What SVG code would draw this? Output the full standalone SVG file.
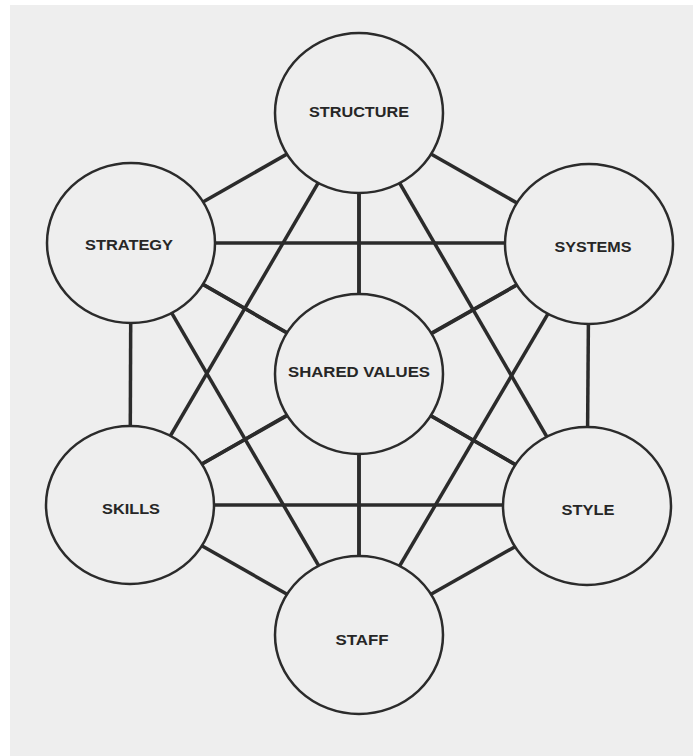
<svg xmlns="http://www.w3.org/2000/svg" width="693" height="756" viewBox="0 0 693 756">
<style>
.bg{fill:#ffffff}
.page{fill:#eeeeee}
.edge{stroke:#2b2b2b;stroke-width:3.5;stroke-linecap:butt}
.node ellipse{fill:#eeeeee;stroke:#2b2b2b;stroke-width:2.5}
.node text{font-family:"Liberation Sans",Arial,sans-serif;font-weight:bold;font-size:15px;fill:#262626;text-anchor:middle}
</style>
<rect class="bg" x="0" y="0" width="693" height="756"/>
<rect class="page" x="10" y="5" width="683" height="751"/>
<g id="connectors">
<line class="edge" x1="359" y1="113" x2="131" y2="243"/>
<line class="edge" x1="359" y1="113" x2="589" y2="244"/>
<line class="edge" x1="359" y1="113" x2="359" y2="374"/>
<line class="edge" x1="359" y1="113" x2="130" y2="505"/>
<line class="edge" x1="359" y1="113" x2="587" y2="506"/>
<line class="edge" x1="359" y1="113" x2="359" y2="635"/>
<line class="edge" x1="131" y1="243" x2="589" y2="243"/>
<line class="edge" x1="131" y1="243" x2="359" y2="374"/>
<line class="edge" x1="131" y1="243" x2="130" y2="505"/>
<line class="edge" x1="131" y1="243" x2="587" y2="506"/>
<line class="edge" x1="131" y1="243" x2="359" y2="635"/>
<line class="edge" x1="589" y1="244" x2="359" y2="374"/>
<line class="edge" x1="589" y1="244" x2="130" y2="505"/>
<line class="edge" x1="589" y1="244" x2="587" y2="506"/>
<line class="edge" x1="589" y1="244" x2="359" y2="635"/>
<line class="edge" x1="359" y1="374" x2="130" y2="505"/>
<line class="edge" x1="359" y1="374" x2="587" y2="506"/>
<line class="edge" x1="359" y1="374" x2="359" y2="635"/>
<line class="edge" x1="130" y1="505" x2="587" y2="505"/>
<line class="edge" x1="130" y1="505" x2="359" y2="635"/>
<line class="edge" x1="587" y1="506" x2="359" y2="635"/>
</g>
<g id="structure" class="node"><ellipse cx="359" cy="113" rx="84" ry="80"/><text x="359" y="117" textLength="100" lengthAdjust="spacingAndGlyphs">STRUCTURE</text></g>
<g id="strategy" class="node"><ellipse cx="131" cy="243" rx="84" ry="80"/><text x="129" y="250" textLength="88" lengthAdjust="spacingAndGlyphs">STRATEGY</text></g>
<g id="systems" class="node"><ellipse cx="589" cy="244" rx="84" ry="80"/><text x="593" y="252" textLength="77" lengthAdjust="spacingAndGlyphs">SYSTEMS</text></g>
<g id="shared-values" class="node"><ellipse cx="359" cy="374" rx="84" ry="80"/><text x="359" y="377" textLength="142" lengthAdjust="spacingAndGlyphs">SHARED VALUES</text></g>
<g id="skills" class="node"><ellipse cx="130" cy="505" rx="84" ry="79"/><text x="131" y="514" textLength="58" lengthAdjust="spacingAndGlyphs">SKILLS</text></g>
<g id="style" class="node"><ellipse cx="587" cy="506" rx="84" ry="79"/><text x="588" y="515" textLength="53" lengthAdjust="spacingAndGlyphs">STYLE</text></g>
<g id="staff" class="node"><ellipse cx="359" cy="635" rx="84" ry="79"/><text x="362" y="645" textLength="53" lengthAdjust="spacingAndGlyphs">STAFF</text></g>
</svg>
